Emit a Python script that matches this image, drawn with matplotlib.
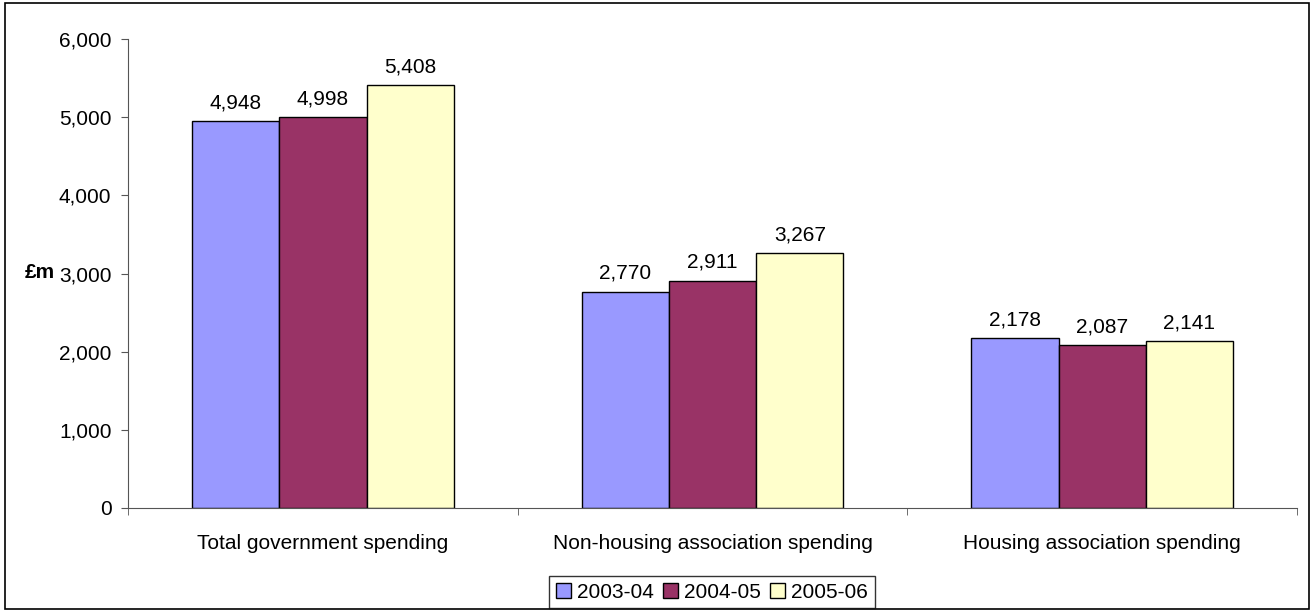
import matplotlib
matplotlib.use("Agg")
import matplotlib.pyplot as plt
import numpy as np
from matplotlib.patches import Rectangle

plt.rcParams['font.family'] = ['Liberation Sans', 'DejaVu Sans']

categories = ["Total government spending", "Non-housing association spending", "Housing association spending"]
series_names = ["2003-04", "2004-05", "2005-06"]
values_2003 = [4948, 2770, 2178]
values_2004 = [4998, 2911, 2087]
values_2005 = [5408, 3267, 2141]
colors = ["#9999FF", "#993366", "#FFFFCC"]

FS = 15

fig = plt.figure(figsize=(13.12, 6.12), dpi=100)
ax = fig.add_axes([0.0976, 0.170, 0.891, 0.766])

x = np.arange(len(categories))
w = 0.224
for i, (vals, name, c) in enumerate(zip([values_2003, values_2004, values_2005], series_names, colors)):
    pos = x + (i - 1) * w
    ax.bar(pos, vals, width=w, color=c, edgecolor="black", linewidth=1.0, label=name)
    for p, v in zip(pos, vals):
        ax.text(p, v + 110, f"{v:,}", ha="center", va="bottom", fontsize=FS)

ax.set_xlim(-0.5, 2.5)
ax.set_ylim(0, 6000)
ax.set_yticks(np.arange(0, 6001, 1000))
ax.set_yticklabels([f"{v:,}" for v in range(0, 6001, 1000)], fontsize=FS)
ax.set_xticks(x)
ax.set_xticklabels(categories, fontsize=FS)
ax.tick_params(axis="x", length=0, pad=19)
ax.set_xticks([-0.5, 0.5, 1.5, 2.5], minor=True)
ax.tick_params(axis="x", which="minor", length=5, direction="out", color="#555555")
ax.tick_params(axis="y", length=5, direction="out", color="#555555", pad=7)
for s in ["top", "right"]:
    ax.spines[s].set_visible(False)
for s in ["left", "bottom"]:
    ax.spines[s].set_color("#555555")

fig.text(25/1312, 1 - 273/612, "£m", fontsize=FS, fontweight="bold", ha="left", va="center")

leg = fig.legend(loc="center", bbox_to_anchor=(712/1312, 1 - 592/612), ncol=3, fontsize=FS,
                 frameon=True, fancybox=False, edgecolor="black", handlelength=0.7, handleheight=0.7,
                 handletextpad=0.3, columnspacing=0.45, borderpad=0.32, borderaxespad=0)
leg.get_frame().set_linewidth(1.0)

fig.patches.append(Rectangle((5/1312, 3/612), 1304/1312, 606/612, transform=fig.transFigure,
                             fill=False, edgecolor="black", linewidth=1.2))

fig.savefig("out.png", dpi=100)
